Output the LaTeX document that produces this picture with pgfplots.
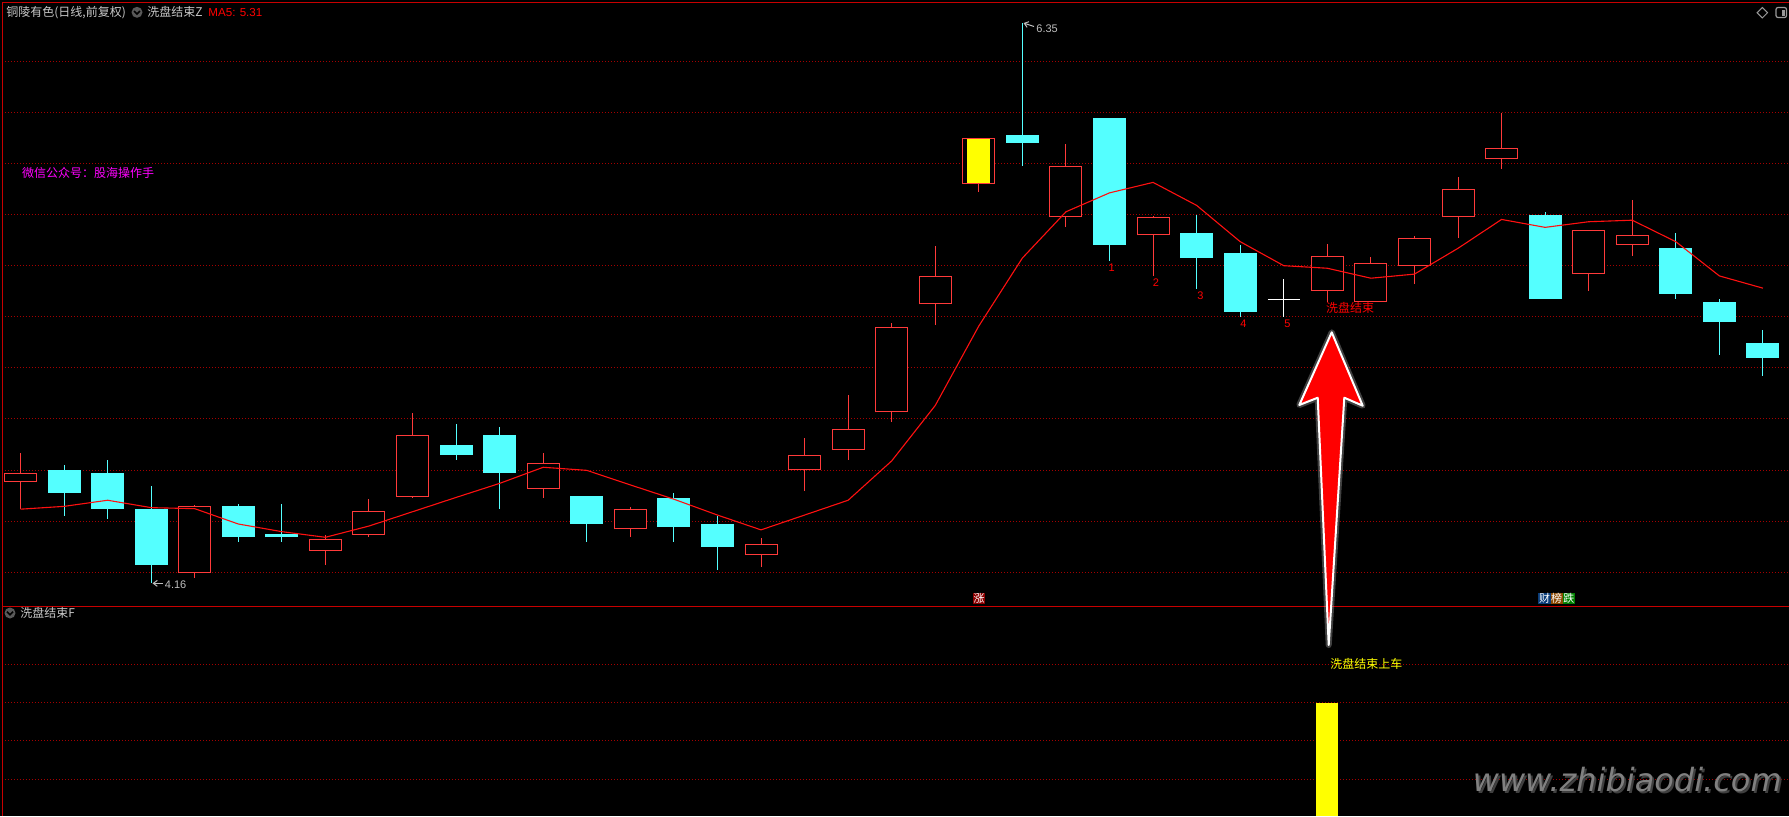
\documentclass[border=0pt]{standalone}
\usepackage{fontspec}
\setmainfont{Liberation Sans}
\newfontfamily\cjk{Noto Sans CJK SC}
\newfontfamily\wmfont{DejaVu Sans}
\usepackage{pgfplots}
\usepackage{pgfplotstable}
\pgfplotsset{compat=1.18}
\usetikzlibrary{arrows.meta}

\definecolor{frameRed}{RGB}{200,0,0}
\definecolor{gridRed}{RGB}{165,0,0}
\definecolor{upRed}{RGB}{255,58,58}
\definecolor{maRed}{RGB}{255,16,16}
\definecolor{dnCyan}{RGB}{84,255,255}
\definecolor{hdrGray}{RGB}{200,200,200}
\definecolor{lblGray}{RGB}{190,190,190}
\definecolor{wxMag}{RGB}{255,0,255}
\definecolor{sigYel}{RGB}{255,255,0}
\definecolor{tagRed}{RGB}{140,0,0}
\definecolor{tagBlue}{RGB}{10,60,120}
\definecolor{tagBrown}{RGB}{140,72,0}
\definecolor{tagGreen}{RGB}{0,128,0}

\newcommand{\cn}{\cjk\fontsize{6pt}{7pt}\selectfont}
\newcommand{\lat}{\fontsize{5.5pt}{6.5pt}\selectfont}

% candles: i open high low close
\pgfplotstableread{
i  o     h     l     c
1  4.555 4.666 4.447 4.587
5  4.196 4.463 4.179 4.458
8  4.285 4.346 4.230 4.329
9  4.347 4.487 4.338 4.439
10 4.496 4.823 4.491 4.736
13 4.527 4.666 4.491 4.627
15 4.368 4.456 4.339 4.447
18 4.267 4.334 4.222 4.310
19 4.599 4.726 4.519 4.658
20 4.678 4.894 4.641 4.760
21 4.826 5.175 4.789 5.159
22 5.249 5.477 5.168 5.358
23 5.719 5.900 5.690 5.900
25 5.589 5.876 5.553 5.789
27 5.519 5.596 5.361 5.589
31 5.300 5.485 5.258 5.437
32 5.257 5.434 5.257 5.409
33 5.398 5.516 5.330 5.508
34 5.589 5.747 5.510 5.699
35 5.819 5.999 5.780 5.860
37 5.366 5.539 5.302 5.539
38 5.480 5.657 5.439 5.519
}\upT

\pgfplotstableread{
i  o     h     l     c
2  4.600 4.620 4.422 4.512
3  4.589 4.640 4.409 4.448
4  4.448 4.538 4.160 4.229
6  4.459 4.467 4.320 4.338
7  4.350 4.467 4.320 4.338
11 4.698 4.780 4.640 4.660
12 4.737 4.770 4.448 4.590
14 4.499 4.499 4.320 4.390
16 4.491 4.510 4.320 4.379
17 4.389 4.420 4.210 4.300
24 5.912 6.350 5.791 5.881
26 5.978 5.978 5.420 5.482
28 5.528 5.598 5.310 5.431
29 5.450 5.481 5.200 5.220
36 5.598 5.610 5.271 5.271
39 5.469 5.528 5.271 5.290
40 5.258 5.270 5.052 5.181
41 5.097 5.148 4.969 5.040
}\dnT

\pgfplotstableread{
i  o     h     l     c
30 5.268 5.348 5.200 5.268
}\dojiT

\pgfplotstableread{
i  o     c
23 5.719 5.900
}\limitT

\pgfplotstableread{
i  ma
1  4.447
2  4.458
3  4.482
4  4.453
5  4.449
6  4.389
7  4.359
8  4.337
9  4.381
10 4.437
11 4.493
12 4.548
13 4.611
14 4.599
15 4.542
16 4.486
17 4.424
18 4.366
19 4.424
20 4.482
21 4.636
22 4.853
23 5.164
24 5.430
25 5.611
26 5.685
27 5.726
28 5.636
29 5.494
30 5.400
31 5.390
32 5.351
33 5.367
34 5.468
35 5.581
36 5.550
37 5.572
38 5.578
39 5.494
40 5.360
41 5.312
}\maT

\pgfplotsset{
  panel/.style={
    scale only axis, width=893.5pt,
    xmin=0.5753, xmax=41.599,
    axis line style={draw=none},
    xtick=\empty, yticklabels={}, major tick length=0pt,
    ymajorgrids,
    grid style={gridRed, line width=0.5pt, dash pattern=on 0.5pt off 1pt},
  },
}

\begin{document}
\begin{tikzpicture}
\useasboundingbox (0,0) rectangle (894.5pt,-408pt);
\fill[black] (0,0) rectangle (894.5pt,-408pt);

% price panel
\begin{axis}[panel,
  at={(1pt,-303pt)}, anchor=south west, height=302pt,
  ymin=4.068, ymax=6.432,
  ytick={4.2,4.4,4.6,4.8,5.0,5.2,5.4,5.6,5.8,6.0,6.2},
]
% rising candles: wick, red box, black inside
\addplot[upRed, line width=0.5pt, quiver={u=0, v=\thisrow{h}-\thisrow{l}}]
  table[x=i, y=l] {\upT};
\addplot[upRed, line width=16.5pt, quiver={u=0, v=\thisrow{c}-\thisrow{o}}]
  table[x=i, y=o] {\upT};
\addplot[black, line width=15.5pt, quiver={u=0, v=\thisrow{c}-\thisrow{o}-0.0078}]
  table[x=i, y expr=\thisrow{o}+0.0039] {\upT};
% limit-up day filled yellow
\addplot[sigYel, line width=11.5pt, quiver={u=0, v=\thisrow{c}-\thisrow{o}-0.0078}]
  table[x=i, y expr=\thisrow{o}+0.0039] {\limitT};
% falling candles
\addplot[dnCyan, line width=0.5pt, quiver={u=0, v=\thisrow{h}-\thisrow{l}}]
  table[x=i, y=l] {\dnT};
\addplot[dnCyan, line width=16.5pt, quiver={u=0, v=\thisrow{o}-\thisrow{c}}]
  table[x=i, y=c] {\dnT};
% doji
\addplot[white, line width=0.5pt, quiver={u=0, v=\thisrow{h}-\thisrow{l}}]
  table[x=i, y=l] {\dojiT};
\addplot[white, line width=0.5pt, quiver={u=0.7346, v=0}]
  table[x expr=\thisrow{i}-0.3673, y=o] {\dojiT};
% MA5
\addplot[maRed, line width=0.55pt] table[x=i, y=ma] {\maT};
\end{axis}

% signal panel
\begin{axis}[panel,
  at={(1pt,-408pt)}, anchor=south west, height=105pt,
  ymin=0.04, ymax=5.519, ytick={1,2,3,4},
]
\addplot[ybar, bar width=11pt, fill=sigYel, draw=none] coordinates {(31,3)};
\end{axis}

\begin{scope}[x=0.5pt, y=-0.5pt]
% frame
\draw[frameRed, line width=0.5pt] (2,816) -- (2,2) -- (1789,2);
\draw[frameRed, line width=0.5pt] (2,606) -- (1789,606);

% header
\node[anchor=west, inner sep=0pt, text=hdrGray] at (6,12.3) {\cn 铜陵有色(日线,前复权)};
\fill[gray!70!black] (137,12.3) circle (5.5);
\draw[black, line width=0.8pt] (134,11) -- (137,14) -- (140,11);
\node[anchor=west, inner sep=0pt, text=hdrGray] at (147,12.3) {\cn 洗盘结束Z};
\node[anchor=west, inner sep=0pt, text=red] at (208,12.3) {\fontsize{5.8pt}{6.5pt}\selectfont MA5: 5.31};
\draw[gray!80, line width=0.5pt] (1762.3,7.5) -- (1767.5,12.7) -- (1762.3,17.9) -- (1757.1,12.7) -- cycle;
\draw[gray!80, line width=0.6pt, rounded corners=1pt] (1776,7.5) rectangle (1786.5,17.5);
\fill[gray!80] (1781.5,9.5) rectangle (1784.5,15.5);

\node[anchor=west, inner sep=0pt, text=wxMag] at (21.7,173.3) {\cn 微信公众号：股海操作手};

% extreme marks
\draw[lblGray, line width=0.5pt, -{Straight Barb[length=2pt,width=3pt]}] (1034,26.5) -- (1023.5,23);
\node[anchor=west, inner sep=0pt, text=lblGray] at (1036,28.3) {\lat 6.35};
\draw[lblGray, line width=0.5pt, -{Straight Barb[length=2pt,width=3pt]}] (163,583.3) -- (152.5,583.3);
\node[anchor=west, inner sep=0pt, text=lblGray] at (164.5,584.3) {\lat 4.16};

% count labels
\foreach \xx/\yy/\tt in {1111.7/267.7/1, 1156/282.7/2, 1200.3/295.7/3, 1243.3/324/4, 1287.3/323.3/5}
  \node[inner sep=0pt, text=red] at (\xx,\yy) {\lat \tt};
\node[inner sep=0pt, text=red] at (1350,308.3) {\cn 洗盘结束};

% tags
\node[fill=tagRed, text=white, inner xsep=0.3pt, inner ysep=0.3pt] at (979,598.3) {\cjk\fontsize{5.5pt}{6pt}\selectfont 涨};
\node[fill=tagBlue, text=white, inner xsep=0.3pt, inner ysep=0.3pt] at (1544.5,598.3) {\cjk\fontsize{5.5pt}{6pt}\selectfont 财};
\node[fill=tagBrown, text=white, inner xsep=0.3pt, inner ysep=0.3pt] at (1556.7,598.3) {\cjk\fontsize{5.5pt}{6pt}\selectfont 榜};
\node[fill=tagGreen, text=white, inner xsep=0.3pt, inner ysep=0.3pt] at (1568.8,598.3) {\cjk\fontsize{5.5pt}{6pt}\selectfont 跌};

% lower panel header
\fill[gray!70!black] (10,613) circle (5.5);
\draw[black, line width=0.8pt] (7,611.7) -- (10,614.7) -- (13,611.7);
\node[anchor=west, inner sep=0pt, text=hdrGray] at (20,613) {\cn 洗盘结束F};

% big arrow
\draw[white, opacity=0.25, line width=3pt, line join=round]
  (1331.7,332.3) -- (1362.7,405.7) -- (1344.3,397.7) -- (1328.7,645) -- (1317.7,397.7) -- (1299.3,405) -- cycle;
\filldraw[fill=red, draw=white, line width=1pt, line join=round]
  (1331.7,332.3) -- (1362.7,405.7) -- (1344.3,397.7) -- (1328.7,645) -- (1317.7,397.7) -- (1299.3,405) -- cycle;
\node[anchor=west, inner sep=0pt, text=sigYel] at (1330,664.3) {\cn 洗盘结束上车};

% watermark
\node[anchor=east, inner sep=0pt, text=black!75!white] at (1784,782) {\wmfont\itshape\fontsize{16pt}{17pt}\selectfont www.zhibiaodi.com};
\node[anchor=east, inner sep=0pt, text=gray] at (1782,780) {\wmfont\itshape\fontsize{16pt}{17pt}\selectfont www.zhibiaodi.com};
\end{scope}
\end{tikzpicture}
\end{document}
